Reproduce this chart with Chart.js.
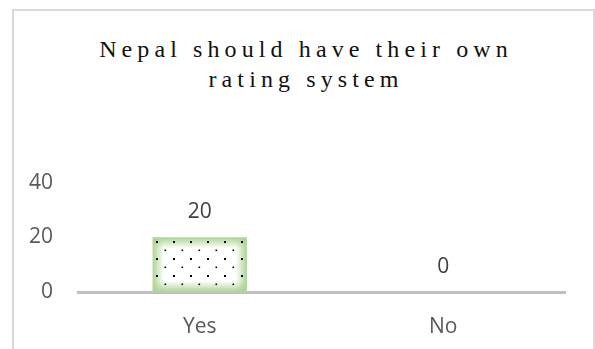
<!DOCTYPE html>
<html>
<head>
<meta charset="utf-8">
<script src="https://cdn.jsdelivr.net/npm/chart.js@4"></script>
<style>
  body { margin: 0; background: #fff; }
  #wrap { position: relative; width: 595px; height: 349px; overflow: hidden; }
  #frame { position: absolute; left: 12px; top: 9px; width: 579px; height: 400px; border: 2px solid #d9d9d9; }
  #title { position: absolute; left: 12px; top: 34px; width: 583px; padding-left: 5px; box-sizing: border-box;
           text-align: center; font: 24px "Liberation Serif", serif; letter-spacing: 5.1px; line-height: 30px; color: #111; }
  canvas { position: absolute; left: 0; top: 0; }
</style>
</head>
<body>
<div id="wrap">
  <div id="frame"></div>
  <div id="title">Nepal should have their own<br>rating system</div>
  <canvas id="grafico" width="595" height="349"></canvas>
</div>
<script>
const categorias = ['Yes', 'No'];
const valores = [20, 0];
const ticksY = [0, 20, 40];

document.addEventListener('DOMContentLoaded', function () {
    // dotted tile for the bar fill
    const tile = document.createElement('canvas');
    tile.width = 17;
    tile.height = 17;
    const tc = tile.getContext('2d');
    tc.fillStyle = '#000';
    tc.fillRect(3, 3, 2, 2);
    tc.fillRect(11.5, 11.5, 1.6, 1.6);

    // green edge fading into a white middle
    function bordaVerde(ctx, x0, y0, x1, y1, rx, ry, rw, rh) {
        const g = ctx.createLinearGradient(x0, y0, x1, y1);
        g.addColorStop(0, 'rgba(169,209,142,0.95)');
        g.addColorStop(1, 'rgba(169,209,142,0)');
        ctx.fillStyle = g;
        ctx.fillRect(rx, ry, rw, rh);
    }

    const preenchimento = {
        id: 'preenchimento',
        afterDatasetsDraw(chart) {
            const ctx = chart.ctx;
            const meta = chart.getDatasetMeta(0);
            meta.data.forEach(function (bar, i) {
                const p = bar.getProps(['x', 'y', 'base', 'width'], true);
                const h = p.base - p.y;
                const left = p.x - p.width / 2;
                const right = left + p.width;
                const e = 11;
                if (h > 1) {
                    ctx.save();
                    ctx.fillStyle = '#fff';
                    ctx.fillRect(left, p.y, p.width, h);
                    bordaVerde(ctx, left, 0, left + e, 0, left, p.y, e, h);
                    bordaVerde(ctx, right, 0, right - e, 0, right - e, p.y, e, h);
                    bordaVerde(ctx, 0, p.y, 0, p.y + e, left, p.y, p.width, e);
                    bordaVerde(ctx, 0, p.base, 0, p.base - e, left, p.base - e, p.width, e);
                    ctx.fillStyle = ctx.createPattern(tile, 'repeat');
                    ctx.fillRect(left, p.y, p.width, h);
                    ctx.strokeStyle = '#b4d9a0';
                    ctx.lineWidth = 1;
                    ctx.strokeRect(left + 0.5, p.y + 0.5, p.width - 1, h - 1);
                    ctx.restore();
                }
                // value label
                ctx.save();
                ctx.font = '21px "Open Sans"';
                ctx.fillStyle = '#404040';
                ctx.textAlign = 'center';
                ctx.textBaseline = 'middle';
                ctx.fillText(String(valores[i]), p.x, p.y - 25);
                ctx.restore();
            });
        }
    };

    const ctx = document.getElementById('grafico').getContext('2d');
    new Chart(ctx, {
        type: 'bar',
        data: {
            labels: categorias,
            datasets: [{
                data: valores,
                backgroundColor: 'rgba(0,0,0,0)',
                borderWidth: 0,
                categoryPercentage: 1,
                barPercentage: 0.386
            }]
        },
        options: {
            responsive: false,
            animation: false,
            layout: { padding: { top: 183, right: 30, left: 0, bottom: 0 } },
            scales: {
                y: {
                    min: 0,
                    max: 40,
                    afterFit: function (s) { s.width = 78; },
                    afterBuildTicks: function (s) { s.ticks = ticksY.map(v => ({ value: v })); },
                    grid: { display: false, drawTicks: false },
                    border: { display: false },
                    ticks: { padding: 25, color: '#595959', font: { family: 'Open Sans', size: 21 } }
                },
                x: {
                    afterFit: function (s) { s.height = 57; },
                    grid: { display: false, drawTicks: false },
                    border: { display: true, color: '#bfbfbf', width: 3 },
                    ticks: { padding: 22, color: '#595959', font: { family: 'Open Sans', size: 21 } }
                }
            },
            plugins: {
                legend: { display: false },
                tooltip: { enabled: false }
            }
        },
        plugins: [preenchimento]
    });
});
</script>
</body>
</html>
